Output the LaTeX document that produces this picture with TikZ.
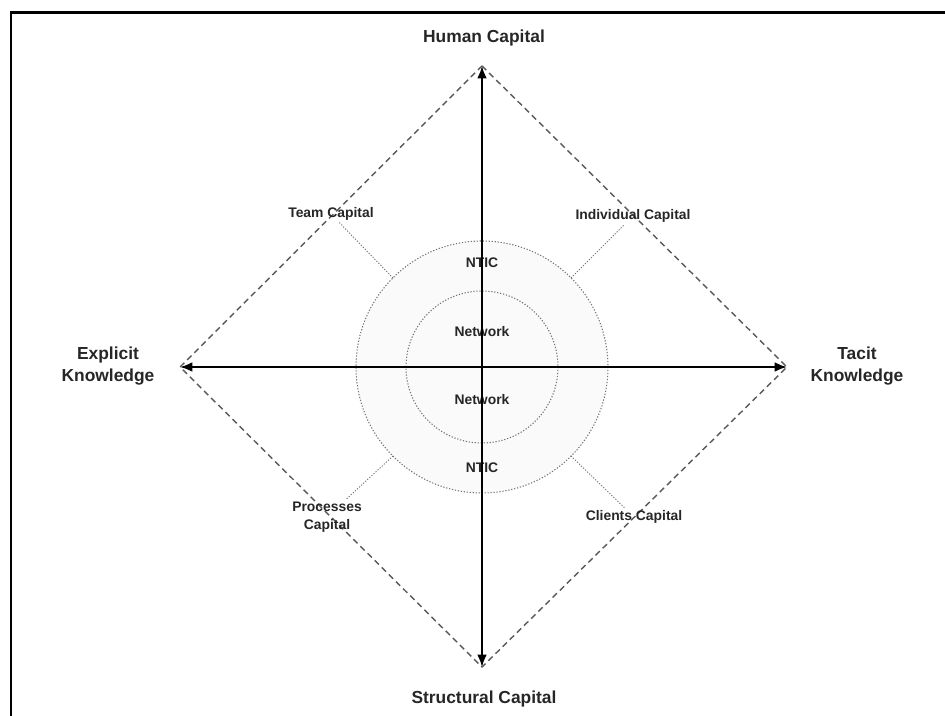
\documentclass[tikz,border=0pt]{standalone}
\usepackage{fontspec}
\setmainfont{Liberation Sans}
\usetikzlibrary{arrows.meta}

\begin{document}
\begin{tikzpicture}[x=0.2mm,y=-0.2mm,
  big/.style={font=\fontsize{9.9}{12.5}\selectfont\bfseries,text=black!85,align=center,inner sep=1pt},
  small/.style={font=\fontsize{7.9}{10.2}\selectfont\bfseries,text=black!85,align=center,inner sep=1pt},
  axis/.style={line width=1.1pt,{Latex[length=7pt,width=5.5pt]}-{Latex[length=7pt,width=5.5pt]}},
  edge/.style={black!65,line width=0.8pt,dash pattern=on 3.4pt off 2.3pt},
  ring/.style={black!55,line width=0.6pt,dash pattern=on 0.7pt off 1pt},
  lead/.style={black!55,line width=0.5pt,dash pattern=on 0.7pt off 0.9pt}]
\useasboundingbox (0,0) rectangle (945,716);
\draw[line width=1.7pt] (945,13) -- (11,13) -- (11,716);

\coordinate (c) at (482,367);
\coordinate (top) at (482,66);
\coordinate (bot) at (482,667);
\coordinate (lft) at (180,367);
\coordinate (rgt) at (787,367);
\coordinate (tcp) at (393,278);
\coordinate (icp) at (571,278);
\coordinate (pcp) at (393,456);
\coordinate (ccp) at (571,456);

\fill[black!2] (c) circle[radius=126];
\draw[ring] (c) circle[radius=126];
\draw[ring] (c) circle[radius=76];

\node[small] (ntic1) at (482,263) {NTIC};
\node[small] (net1) at (482,332) {Network};
\node[small] (net2) at (482,400) {Network};
\node[small] (ntic2) at (482,468) {NTIC};

\draw[edge] (top) -- (rgt) -- (bot) -- (lft) -- cycle;
\draw[axis] (top) -- (bot);
\draw[axis] (lft) -- (rgt);

\node[big] (hum) at (484,38) {Human Capital};
\node[big] (str) at (484,699) {Structural Capital};
\node[big] (exp) at (108,366) {Explicit\\Knowledge};
\node[big] (tac) at (857,366) {Tacit\\Knowledge};

\node[small] (team) at (331,214) {Team Capital};
\node[small] (indiv) at (633,216) {Individual Capital};
\node[small] (proc) at (327,517) {Processes\\Capital};
\node[small] (cli) at (634,517) {Clients Capital};

\draw[lead] (tcp) -- (team);
\draw[lead] (icp) -- (indiv);
\draw[lead] (pcp) -- (proc);
\draw[lead] (ccp) -- (cli);
\end{tikzpicture}
\end{document}
